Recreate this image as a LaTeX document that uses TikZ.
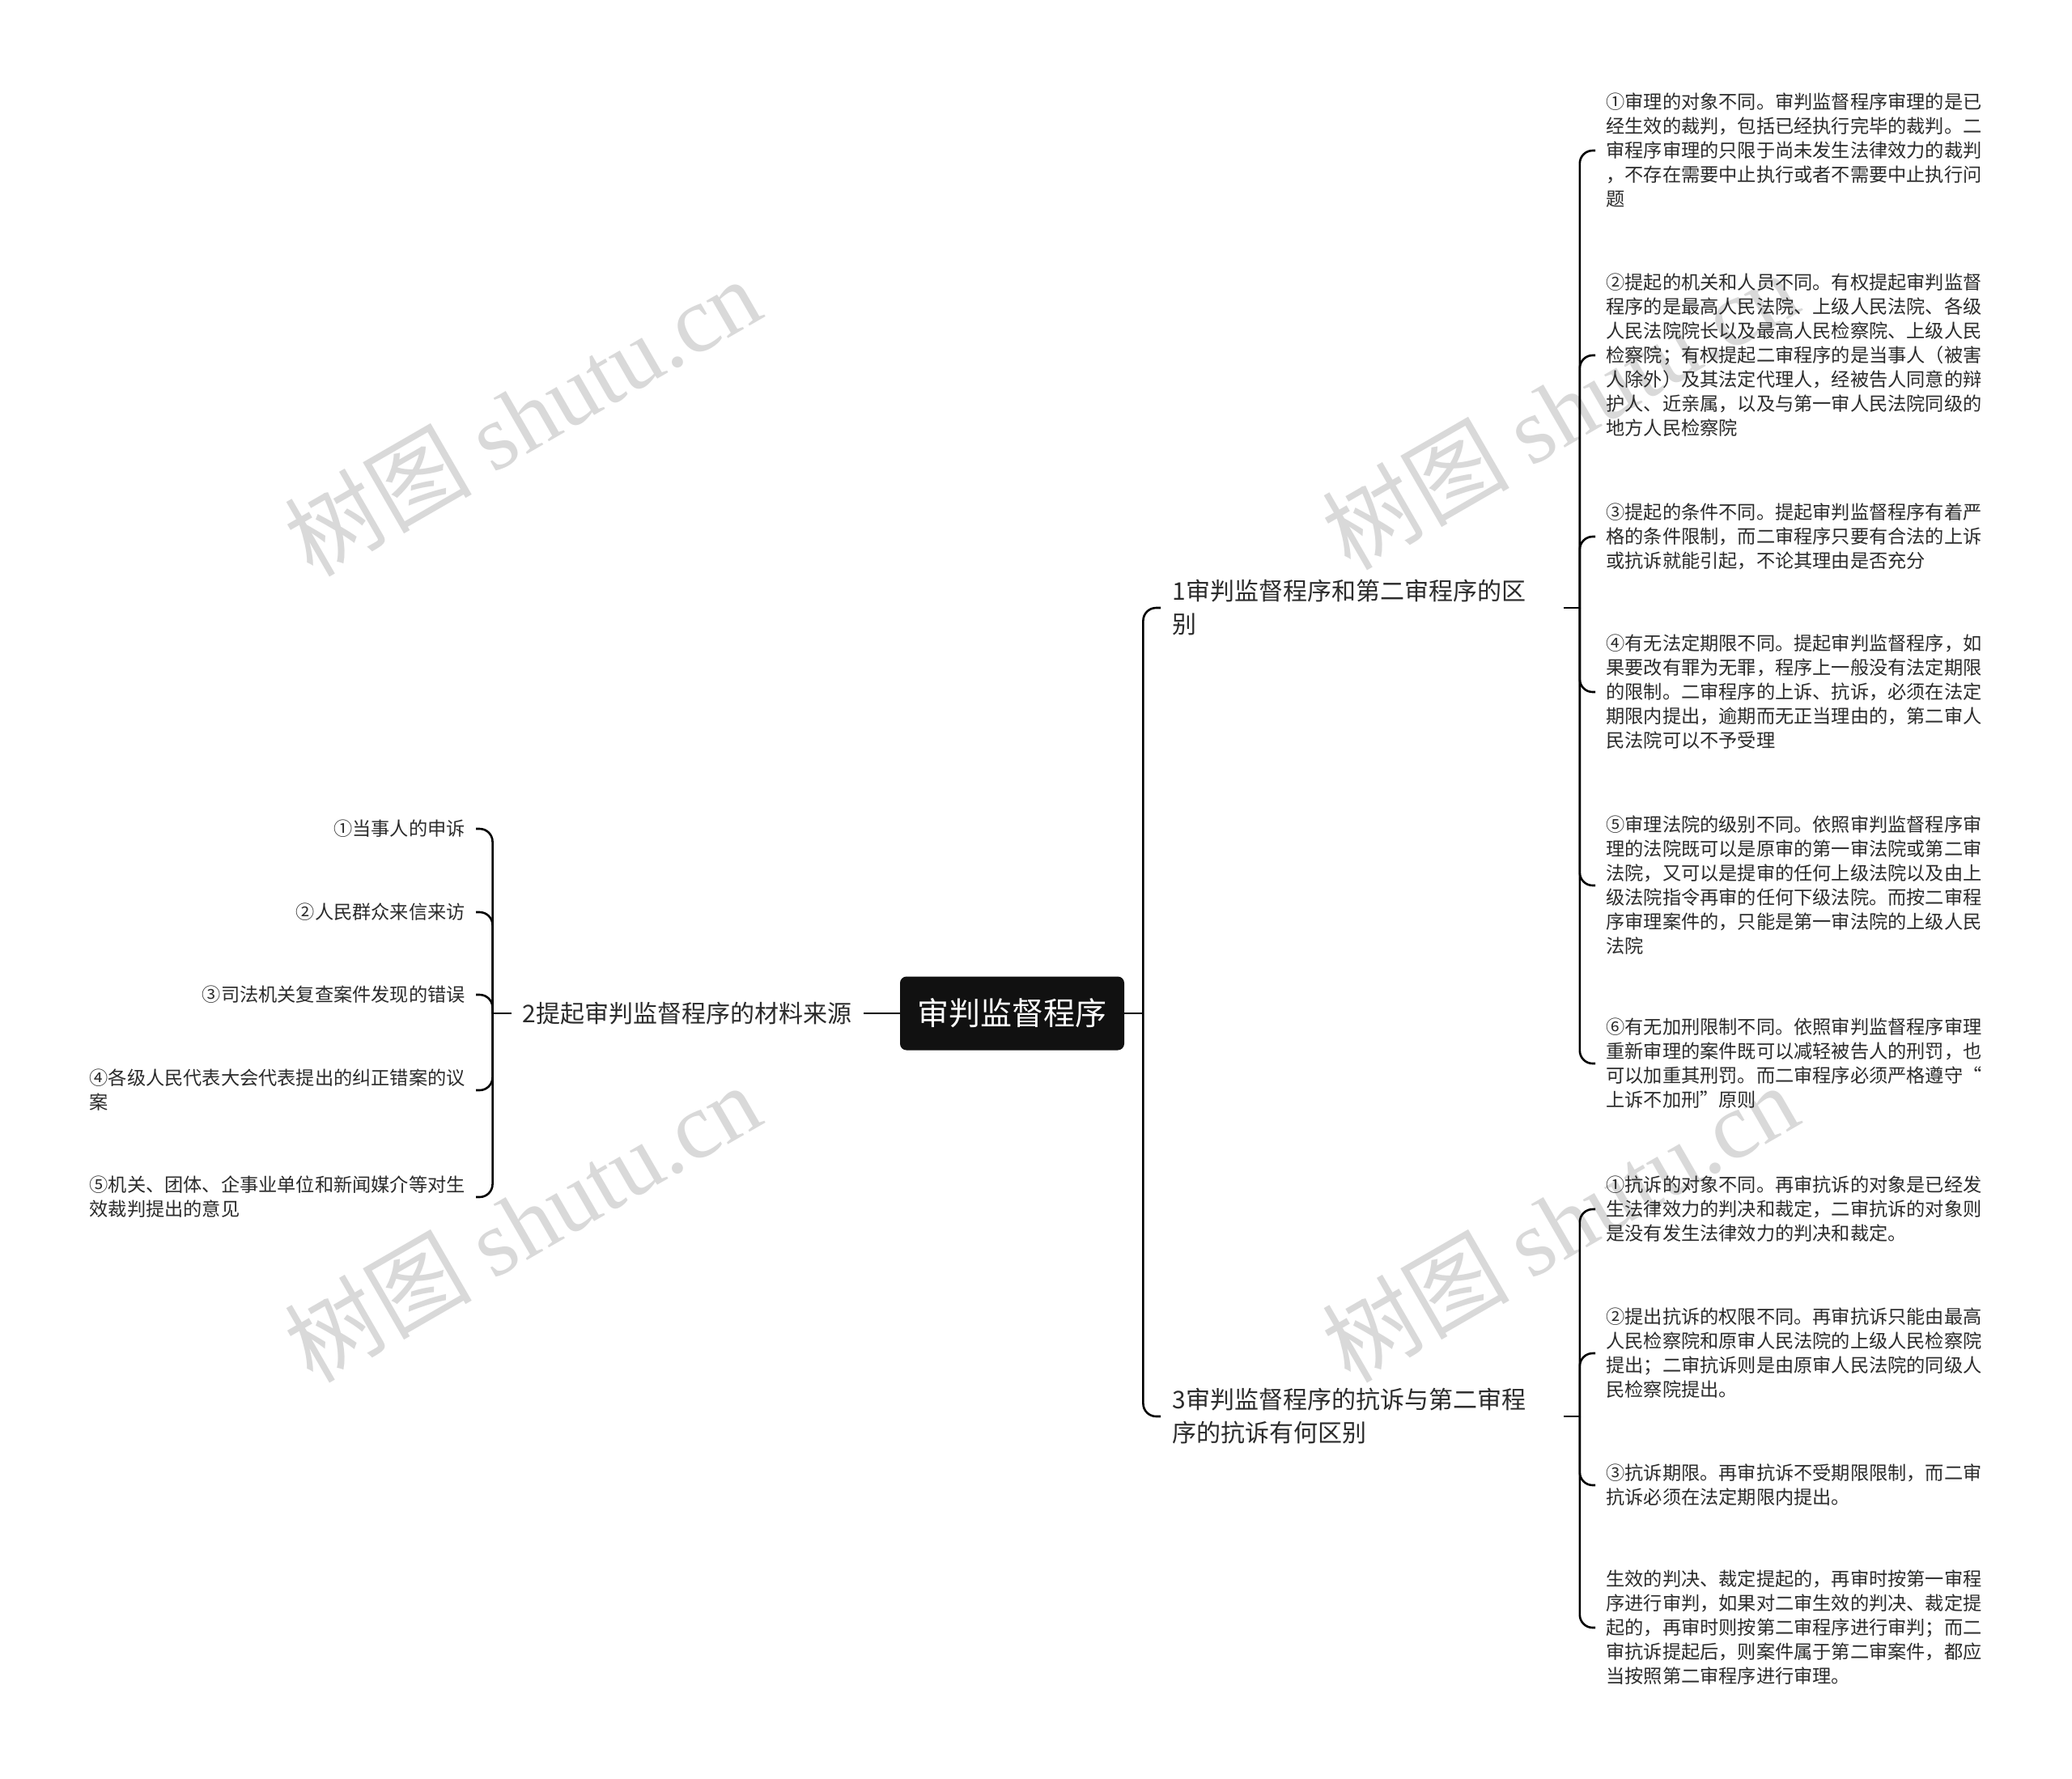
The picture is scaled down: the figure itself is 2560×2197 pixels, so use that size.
\documentclass[tikz,border=0pt]{standalone}
\usepackage{fontspec}
\setmainfont{Noto Sans CJK SC}
\newfontfamily\wmserif{Liberation Serif}
\usepackage{tikz}
\usetikzlibrary{calc}
\definecolor{rootfill}{HTML}{111111}
\definecolor{txtgray}{HTML}{2B2B2B}
\definecolor{wmgray}{HTML}{D9D9D9}
\tikzstyle{root} = [fill=rootfill, text=white, rounded corners=4pt, minimum width=138.5pt, minimum height=45.5pt, inner sep=0pt, font=\fontsize{19.5}{24}\selectfont]
\tikzstyle{branch} = [align=left, inner xsep=7pt, text=txtgray, font=\fontsize{15}{20.5}\selectfont]
\tikzstyle{leaf} = [align=left, inner xsep=6.5pt, text=txtgray, font=\fontsize{11.6}{15}\selectfont]
\tikzstyle{line} = [draw, line width=1.3pt, rounded corners=8pt]
\tikzstyle{wmtext} = [text=wmgray, rotate=30, font=\fontsize{58}{60}\selectfont]

\begin{document}
\begin{tikzpicture}[x=0.5pt, y=-0.5pt]
      \path[use as bounding box, fill=white] (0,0) rectangle (2560,2197);

      % watermarks
      \node (wm1) at (645, 514) [wmtext] {树图 {\wmserif shutu.cn}};
      \node (wm2) at (1927, 506) [wmtext] {树图 {\wmserif shutu.cn}};
      \node (wm3) at (645, 1510) [wmtext] {树图 {\wmserif shutu.cn}};
      \node (wm4) at (1927, 1510) [wmtext] {树图 {\wmserif shutu.cn}};

      \node (root) at (1250.5, 1252) [root] {审判监督程序};

      \node (b1) at (1434, 751) [branch, anchor=west, text width=234.5pt] {1审判监督程序和第二审程序的区\\别};
      \node (b3) at (1434, 1750) [branch, anchor=west, text width=234.5pt] {3审判监督程序的抗诉与第二审程\\序的抗诉有何区别};
      \node (b2) at (1067, 1252) [branch, anchor=east] {2提起审判监督程序的材料来源};

      \node (r1) at (1971, 186) [leaf, anchor=west] {①审理的对象不同。审判监督程序审理的是已\\经生效的裁判，包括已经执行完毕的裁判。二\\审程序审理的只限于尚未发生法律效力的裁判\\，不存在需要中止执行或者不需要中止执行问\\题};
      \node (r2) at (1971, 439) [leaf, anchor=west] {②提起的机关和人员不同。有权提起审判监督\\程序的是最高人民法院、上级人民法院、各级\\人民法院院长以及最高人民检察院、上级人民\\检察院；有权提起二审程序的是当事人（被害\\人除外）及其法定代理人，经被告人同意的辩\\护人、近亲属，以及与第一审人民法院同级的\\地方人民检察院};
      \node (r3) at (1971, 663) [leaf, anchor=west] {③提起的条件不同。提起审判监督程序有着严\\格的条件限制，而二审程序只要有合法的上诉\\或抗诉就能引起，不论其理由是否充分};
      \node (r4) at (1971, 855) [leaf, anchor=west] {④有无法定期限不同。提起审判监督程序，如\\果要改有罪为无罪，程序上一般没有法定期限\\的限制。二审程序的上诉、抗诉，必须在法定\\期限内提出，逾期而无正当理由的，第二审人\\民法院可以不予受理};
      \node (r5) at (1971, 1094) [leaf, anchor=west] {⑤审理法院的级别不同。依照审判监督程序审\\理的法院既可以是原审的第一审法院或第二审\\法院，又可以是提审的任何上级法院以及由上\\级法院指令再审的任何下级法院。而按二审程\\序审理案件的，只能是第一审法院的上级人民\\法院};
      \node (r6) at (1971, 1314) [leaf, anchor=west] {⑥有无加刑限制不同。依照审判监督程序审理\\重新审理的案件既可以减轻被告人的刑罚，也\\可以加重其刑罚。而二审程序必须严格遵守“\\上诉不加刑”原则};

      \node (s1) at (1971, 1494) [leaf, anchor=west] {①抗诉的对象不同。再审抗诉的对象是已经发\\生法律效力的判决和裁定，二审抗诉的对象则\\是没有发生法律效力的判决和裁定。};
      \node (s2) at (1971, 1672) [leaf, anchor=west] {②提出抗诉的权限不同。再审抗诉只能由最高\\人民检察院和原审人民法院的上级人民检察院\\提出；二审抗诉则是由原审人民法院的同级人\\民检察院提出。};
      \node (s3) at (1971, 1835) [leaf, anchor=west] {③抗诉期限。再审抗诉不受期限限制，而二审\\抗诉必须在法定期限内提出。};
      \node (s4) at (1971, 2011) [leaf, anchor=west] {生效的判决、裁定提起的，再审时按第一审程\\序进行审判，如果对二审生效的判决、裁定提\\起的，再审时则按第二审程序进行审判；而二\\审抗诉提起后，则案件属于第二审案件，都应\\当按照第二审程序进行审理。};

      \node (l1) at (588, 1024) [leaf, anchor=east] {①当事人的申诉};
      \node (l2) at (588, 1127) [leaf, anchor=east] {②人民群众来信来访};
      \node (l3) at (588, 1229) [leaf, anchor=east] {③司法机关复查案件发现的错误};
      \node (l4) at (588, 1347) [leaf, anchor=east] {④各级人民代表大会代表提出的纠正错案的议\\案};
      \node (l5) at (588, 1479) [leaf, anchor=east] {⑤机关、团体、企事业单位和新闻媒介等对生\\效裁判提出的意见};

      % junctions
      \coordinate (jr) at ($(root.east)+(23,0)$);
      \coordinate (jl) at ($(b2.west)+(-23,0)$);
      \coordinate (j1) at ($(b1.east)+(20,0)$);
      \coordinate (j3) at ($(b3.east)+(20,0)$);

      \draw[line] (root.east) -- (jr);
      \draw[line] (jr) |- (b1.west);
      \draw[line] (jr) |- (b3.west);
      \draw[line] (root.west) -- (b2.east);

      \draw[line] (b2.west) -- (jl);
      \foreach \n in {l1,l2,l3,l4,l5}
        \draw[line] (jl) |- (\n.east);

      \draw[line] (b1.east) -- (j1);
      \foreach \n in {r1,r2,r3,r4,r5,r6}
        \draw[line] (j1) |- (\n.west);

      \draw[line] (b3.east) -- (j3);
      \foreach \n in {s1,s2,s3,s4}
        \draw[line] (j3) |- (\n.west);
\end{tikzpicture}
\end{document}
